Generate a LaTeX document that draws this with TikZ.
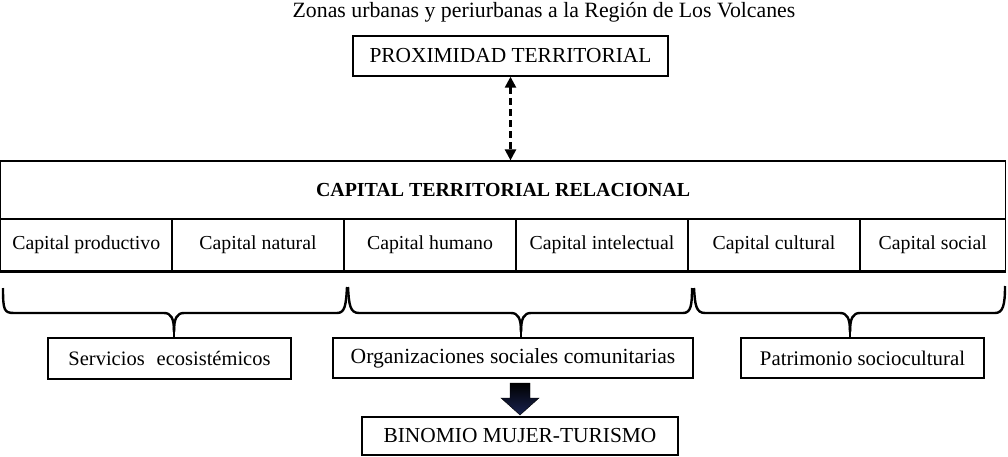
\documentclass[tikz,border=0pt]{standalone}
\usepackage{fontspec}
\setmainfont{Liberation Serif}
\usetikzlibrary{arrows.meta,calc}
\begin{document}
\begin{tikzpicture}[x=1pt,y=-1pt,
  box/.style={draw,line width=1.4pt,inner sep=0pt,font=\fontsize{20.5}{24}\selectfont},
  cell/.style={draw,line width=1.2pt,inner sep=0pt,minimum height=51pt,font=\fontsize{19.8}{24}\selectfont},
  bracestyle/.style={line width=2.4pt,line join=round},
  dasharrow/.style={line width=2.4pt,dash pattern=on 7pt off 4pt,{Triangle[length=11pt,width=11pt]}-{Triangle[length=11pt,width=11pt]}}
]
\useasboundingbox (0,0) rectangle (1008,457);
\node (title) at (544,12) {\fontsize{21.8}{24}\selectfont Zonas urbanas y periurbanas a la Región de Los Volcanes};
\node[box,minimum width=315pt,minimum height=40pt,font=\fontsize{21.4}{24}\selectfont] (prox) at (510.5,56) {PROXIMIDAD TERRITORIAL};
% main table
\node[draw,line width=1.2pt,inner sep=0pt,minimum width=1005pt,minimum height=58pt,font=\bfseries\fontsize{19.9}{24}\selectfont] (ctr) at (503.1,190) {CAPITAL TERRITORIAL RELACIONAL};
\node[cell,minimum width=171.4pt] (c1) at (86.3,245) {Capital productivo};
\node[cell,minimum width=172pt] (c2) at (258,245) {Capital natural};
\node[cell,minimum width=172pt] (c3) at (430,245) {Capital humano};
\node[cell,minimum width=172pt] (c4) at (602,245) {Capital intelectual};
\node[cell,minimum width=172pt] (c5) at (774,245) {Capital cultural};
\node[cell,minimum width=145.6pt] (c6) at (932.8,245) {Capital social};
\draw[line width=3pt] (c1.south west) -- (c6.south east);
\draw[dasharrow] (prox.south) -- (prox.south |- ctr.north);
% braces
\coordinate (t1) at (174,332);
\coordinate (t2) at (521,332);
\coordinate (t3) at (850,332);
\draw[bracestyle] (3,288) .. controls (3,310) and (4,313) .. (14,313) -- (164,313) .. controls (171,313) and (174,318) .. (t1);
\draw[bracestyle] (t1) .. controls (174,318) and (177,313) .. (184,313) -- (337,313) .. controls (345,313) and (346,305) .. (347,287);
\draw[bracestyle] (348,287) .. controls (349,305) and (350,313) .. (359,313) -- (511,313) .. controls (518,313) and (521,318) .. (t2);
\draw[bracestyle] (t2) .. controls (521,318) and (524,313) .. (531,313) -- (683,313) .. controls (691,313) and (692,305) .. (692,288);
\draw[bracestyle] (694,288) .. controls (695,305) and (696,313) .. (705,313) -- (840,313) .. controls (847,313) and (850,318) .. (t3);
\draw[bracestyle] (t3) .. controls (850,318) and (853,313) .. (860,313) -- (995,313) .. controls (1003,313) and (1005,305) .. (1005,286);
% bottom boxes
\node[box,minimum width=243pt,minimum height=41pt,font=\fontsize{20.5}{24}\selectfont] (serv) at (169.5,358.5) {Servicios\,\, ecosistémicos};
\node[box,minimum width=360pt,minimum height=40pt,font=\fontsize{21.6}{24}\selectfont] (org) at (513,358) {Organizaciones sociales comunitarias};
\node[box,minimum width=243pt,minimum height=40pt,font=\fontsize{20.8}{24}\selectfont] (pat) at (862.5,358) {Patrimonio sociocultural};
\node[box,minimum width=316pt,minimum height=38pt,font=\fontsize{21.4}{24}\selectfont] (bin) at (520,436) {BINOMIO MUJER-TURISMO};
\draw[line width=2pt] (t1) -- (t1 |- serv.north);
\draw[line width=2pt] (t2) -- (t2 |- org.north);
\draw[line width=2pt] (t3) -- (t3 |- pat.north);
% block arrow
\coordinate (ar) at (520,383);
\shade[top color=black,bottom color={rgb,255:red,25;green,35;blue,80},draw=black,line width=0.4pt]
  (ar) ++(-10,0) -- ++(20,0) -- ++(0,15) -- ++(9,0) -- ++(-19,17) -- ++(-19,-17) -- ++(9,0) -- cycle;
\end{tikzpicture}
\end{document}
